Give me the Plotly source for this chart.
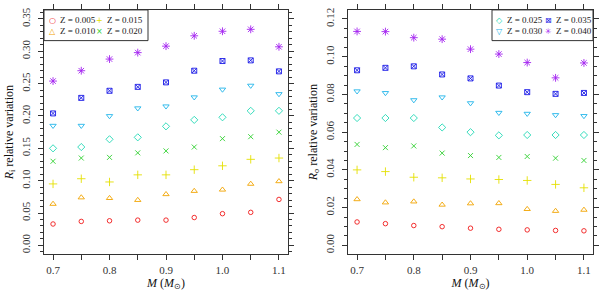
import plotly.graph_objects as go

# ---------------- data ----------------
mass = [0.70, 0.75, 0.80, 0.85, 0.90, 0.95, 1.00, 1.05, 1.10]
z_labels = ["Z = 0.005", "Z = 0.010", "Z = 0.015", "Z = 0.020",
            "Z = 0.025", "Z = 0.030", "Z = 0.035", "Z = 0.040"]

# R_i relative variation (left panel)
ri_z005 = [0.033, 0.037, 0.038, 0.039, 0.039, 0.043, 0.049, 0.051, 0.071]
ri_z010 = [0.064, 0.074, 0.073, 0.070, 0.079, 0.084, 0.086, 0.095, 0.099]
ri_z015 = [0.095, 0.103, 0.098, 0.109, 0.109, 0.117, 0.123, 0.133, 0.135]
ri_z020 = [0.130, 0.135, 0.136, 0.143, 0.146, 0.152, 0.165, 0.168, 0.175]
ri_z025 = [0.150, 0.152, 0.164, 0.167, 0.184, 0.194, 0.198, 0.208, 0.208]
ri_z030 = [0.185, 0.185, 0.200, 0.212, 0.215, 0.229, 0.241, 0.247, 0.234]
ri_z035 = [0.204, 0.228, 0.239, 0.245, 0.252, 0.270, 0.285, 0.286, 0.269]
ri_z040 = [0.254, 0.270, 0.288, 0.298, 0.308, 0.324, 0.331, 0.334, 0.307]

# R_o relative variation (right panel)
ro_z005 = [0.0124, 0.0115, 0.0105, 0.0099, 0.0091, 0.0085, 0.0082, 0.0079, 0.0077]
ro_z010 = [0.0244, 0.0227, 0.0232, 0.0215, 0.0222, 0.0223, 0.0192, 0.0182, 0.0188]
ro_z015 = [0.0400, 0.0391, 0.0361, 0.0358, 0.0352, 0.0349, 0.0344, 0.0323, 0.0305]
ro_z020 = [0.0535, 0.0518, 0.0527, 0.0489, 0.0476, 0.0466, 0.0471, 0.0462, 0.0450]
ro_z025 = [0.0675, 0.0675, 0.0675, 0.0625, 0.0600, 0.0583, 0.0585, 0.0585, 0.0585]
ro_z030 = [0.0817, 0.0808, 0.0770, 0.0785, 0.0754, 0.0703, 0.0698, 0.0691, 0.0686]
ro_z035 = [0.0928, 0.0941, 0.0949, 0.0906, 0.0885, 0.0847, 0.0812, 0.0803, 0.0808]
ro_z040 = [0.1134, 0.1133, 0.1101, 0.1093, 0.1040, 0.1014, 0.0969, 0.0888, 0.0967]

x_tick_vals = [0.7, 0.8, 0.9, 1.0, 1.1]
x_tick_text = ["0.7", "0.8", "0.9", "1.0", "1.1"]
ri_tick_vals = [0.00, 0.05, 0.10, 0.15, 0.20, 0.25, 0.30, 0.35]
ri_tick_text = ["0.00", "0.05", "0.10", "0.15", "0.20", "0.25", "0.30", "0.35"]
ro_tick_vals = [0.00, 0.02, 0.04, 0.06, 0.08, 0.10, 0.12]
ro_tick_text = ["0.00", "0.02", "0.04", "0.06", "0.08", "0.10", "0.12"]

# ---------------- style ----------------
colors = ["#F01818", "#F2A400", "#E4E000", "#30D030",
          "#20D8B4", "#20B4EA", "#1818E6", "#A424F0"]
symbols = ["circle-open", "triangle-up-open", "cross-thin-open", "x-thin-open",
           "diamond-open", "triangle-down-open", "square-x-open", "asterisk-open"]
sizes = [4.5, 5.5, 6, 5, 5.5, 5.5, 5, 6.5]
glyphs = ["\u25CB", "\u25B3", "+", "\u00D7", "\u25C7", "\u25BD", "\u22A0", "\u2733"]

ri_series = [ri_z005, ri_z010, ri_z015, ri_z020, ri_z025, ri_z030, ri_z035, ri_z040]
ro_series = [ro_z005, ro_z010, ro_z015, ro_z020, ro_z025, ro_z030, ro_z035, ro_z040]

W, H = 600, 293
SERIF = "Liberation Serif"

fig = go.Figure()
for i in range(8):
    fig.add_trace(go.Scatter(
        x=mass, y=ri_series[i], mode="markers", name=z_labels[i],
        marker=dict(symbol=symbols[i], size=sizes[i], color=colors[i],
                    line=dict(width=0.9, color=colors[i])),
        xaxis="x", yaxis="y", showlegend=False))
for i in range(8):
    fig.add_trace(go.Scatter(
        x=mass, y=ro_series[i], mode="markers", name=z_labels[i],
        marker=dict(symbol=symbols[i], size=sizes[i], color=colors[i],
                    line=dict(width=0.9, color=colors[i])),
        xaxis="x2", yaxis="y2", showlegend=False))

def px_x(p):
    return p / W

def px_y(p):
    return 1 - p / H

ydom = [px_y(254), px_y(7)]
axis_common = dict(showline=True, linecolor="#333333", linewidth=1, mirror="allticks",
                   ticks="outside", ticklen=5, tickwidth=1, tickcolor="#333333",
                   showgrid=False, zeroline=False,
                   tickfont=dict(family=SERIF, size=11, color="#333333"))

xaxis_common = dict(axis_common, range=[0.684, 1.116], tickvals=x_tick_vals,
                    ticktext=x_tick_text,
                    minor=dict(dtick=0.05, tick0=0.7, ticklen=5, ticks="outside",
                               tickcolor="#333333", tickwidth=1),
                    title=dict(text="<i>M</i> (<i>M</i><sub>\u2299</sub>)",
                               font=dict(family=SERIF, size=12, color="#111111"),
                               standoff=3))

fig.update_layout(
    width=W, height=H, autosize=False,
    margin=dict(l=0, r=0, t=0, b=0),
    paper_bgcolor="white", plot_bgcolor="white",
    xaxis=dict(xaxis_common, domain=[px_x(44), px_x(288)], anchor="y"),
    xaxis2=dict(xaxis_common, domain=[px_x(348), px_x(593)], anchor="y2"),
    yaxis=dict(axis_common, domain=ydom, anchor="x", range=[-0.014, 0.364],
               tickvals=ri_tick_vals, ticktext=ri_tick_text, tickangle=-90,
               ticklabelstandoff=4,
               minor=dict(dtick=0.01, tick0=0, ticklen=3, ticks="outside",
                          tickcolor="#333333", tickwidth=1),
               title=dict(text="<i>R</i><sub>i</sub> relative variation",
                          font=dict(family=SERIF, size=12, color="#111111"),
                          standoff=3)),
    yaxis2=dict(axis_common, domain=ydom, anchor="x2", range=[-0.0048, 0.1248],
                tickvals=ro_tick_vals, ticktext=ro_tick_text, tickangle=-90,
                ticklabelstandoff=4,
                minor=dict(dtick=0.005, tick0=0, ticklen=3, ticks="outside",
                           tickcolor="#333333", tickwidth=1),
                title=dict(text="<i>R</i><sub>o</sub> relative variation",
                           font=dict(family=SERIF, size=12, color="#111111"),
                           standoff=3)),
    showlegend=False,
)

# ---------------- legends (boxes with symbol + label) ----------------
legend_boxes = [(44, 148, 7, 38), (492, 593, 7, 38)]
for (x0, x1, y0, y1) in legend_boxes:
    fig.add_shape(type="rect", xref="paper", yref="paper",
                  x0=px_x(x0), x1=px_x(x1), y0=px_y(y1), y1=px_y(y0),
                  line=dict(color="#333333", width=1), fillcolor="white", layer="above")

legend_cols = [(52, 58), (99, 105), (499, 505), (548, 554)]
legend_rows = [17.5, 28.5]
for i in range(8):
    col = i // 2
    row = i % 2
    sx, tx = legend_cols[col]
    yy = legend_rows[row]
    fig.add_annotation(xref="paper", yref="paper", x=px_x(sx), y=px_y(yy),
                       text=glyphs[i], showarrow=False, xanchor="center", yanchor="middle",
                       font=dict(family="DejaVu Sans", size=8, color=colors[i]))
    fig.add_annotation(xref="paper", yref="paper", x=px_x(tx), y=px_y(yy),
                       text=z_labels[i], showarrow=False, xanchor="left", yanchor="middle",
                       font=dict(family=SERIF, size=9, color="#222222"))

fig.write_html("out.html", config={"displayModeBar": False},
               post_script="document.body.style.margin='0';document.body.style.overflow='hidden';")
